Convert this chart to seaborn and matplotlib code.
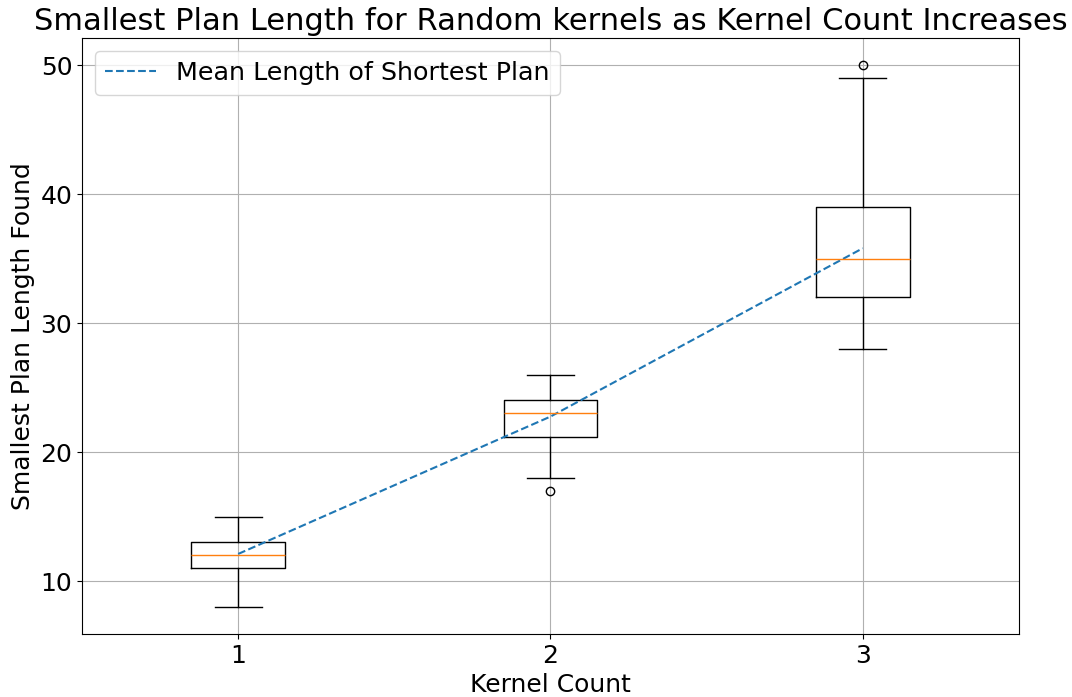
import matplotlib
matplotlib.use("Agg")
import matplotlib.pyplot as plt
import seaborn as sns
import pandas as pd

kernel_counts = [1, 2, 3]
whisker_low = [8, 18, 28]
q1 = [11, 21.2, 32]
medians = [12, 23, 35]
q3 = [13, 24, 39]
whisker_high = [15, 26, 49]
outliers = [[], [17], [50]]
means = [12.1, 22.75, 35.8]

fig, ax = plt.subplots(figsize=(10.72, 6.97), dpi=100)
fig.subplots_adjust(left=0.0765, right=0.9505, top=0.9455, bottom=0.0905)

stats = []
for i, k in enumerate(kernel_counts):
    stats.append(dict(label=str(k), whislo=whisker_low[i], q1=q1[i], med=medians[i],
                      q3=q3[i], whishi=whisker_high[i], fliers=outliers[i]))
ax.bxp(stats, positions=kernel_counts,
       medianprops=dict(color="#ff7f0e"),
       flierprops=dict(marker="o", markerfacecolor="none", markeredgecolor="black"))

df = pd.DataFrame({"Kernel Count": kernel_counts, "Mean": means})
sns.lineplot(data=df, x="Kernel Count", y="Mean", ax=ax, linestyle="--",
             color="#1f77b4", label="Mean Length of Shortest Plan")

ax.set_xlim(0.5, 3.5)
ax.set_xticks(kernel_counts)
ax.set_xticklabels([str(k) for k in kernel_counts])
ax.grid(True)
ax.tick_params(labelsize=18)
ax.set_xlabel("Kernel Count", fontsize=18)
ax.set_ylabel("Smallest Plan Length Found", fontsize=18)
ax.set_title("Smallest Plan Length for Random kernels as Kernel Count Increases", fontsize=22)
ax.legend(loc="upper left", fontsize=18.3)

fig.savefig("out.png", dpi=100)
